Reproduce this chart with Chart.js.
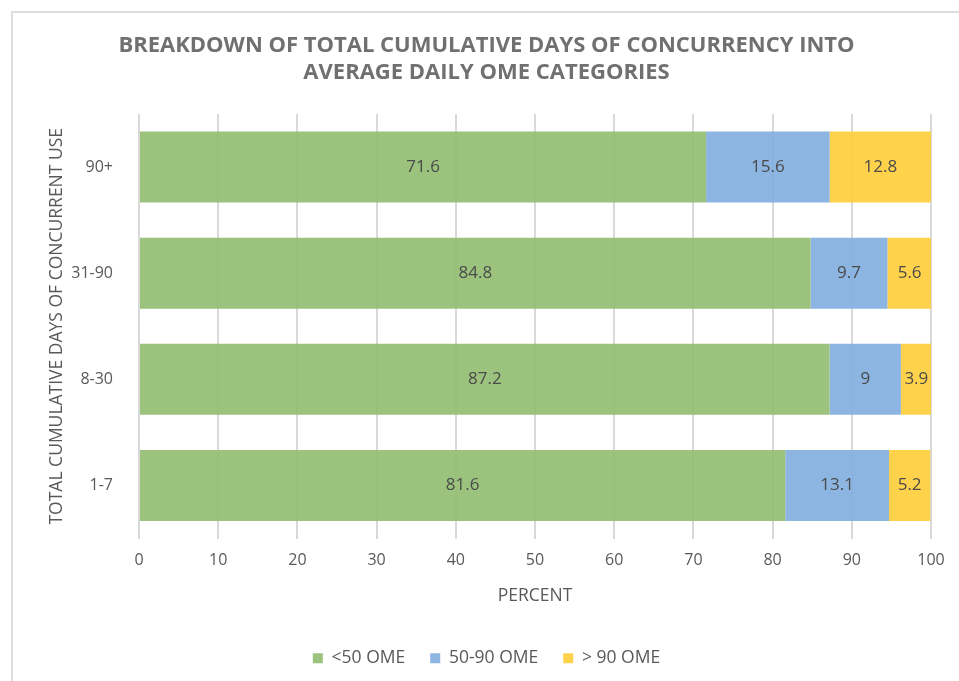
<!DOCTYPE html>
<html>
<head>
<meta charset="utf-8">
<script src="https://cdn.jsdelivr.net/npm/chart.js@4/dist/chart.umd.min.js"></script>
<style>
    body { margin: 0; background: #fff; }
    #wrap { position: relative; width: 959px; height: 681px; overflow: hidden; }
    #frame {
        position: absolute; left: 11px; top: 11px; width: 1000px; height: 1000px;
        border-left: 2px solid #dedede; border-top: 2px solid #dedede; pointer-events: none;
    }
</style>
</head>
<body>
<div id="wrap">
    <canvas id="myChart" width="959" height="681"></canvas>
    <div id="frame"></div>
</div>
<script>
"use strict";

// categories top to bottom, as in the picture
const categories = ['90+', '31-90', '8-30', '1-7'];
const under50 = [71.6, 84.8, 87.2, 81.6];
const from50to90 = [15.6, 9.7, 9, 13.1];
const over90 = [12.8, 5.6, 3.9, 5.2];
const seriesNames = ['<50 OME', '50-90 OME', '> 90 OME'];
const xTicks = [0, 10, 20, 30, 40, 50, 60, 70, 80, 90, 100];

const FONT = "'Open Sans', sans-serif";

// write the value in the middle of every bar piece
const barLabels = {
    id: 'barLabels',
    afterDatasetsDraw(chart) {
        const ctx = chart.ctx;
        ctx.save();
        ctx.font = '17px ' + FONT;
        ctx.fillStyle = '#4a4a4a';
        ctx.textAlign = 'center';
        ctx.textBaseline = 'middle';
        chart.data.datasets.forEach((ds, i) => {
            chart.getDatasetMeta(i).data.forEach((bar, j) => {
                const p = bar.getProps(['x', 'y', 'base'], true);
                ctx.fillText(String(ds.data[j]), (p.x + p.base) / 2, p.y);
            });
        });
        ctx.restore();
    }
};

new Chart(document.getElementById('myChart'), {
    type: 'bar',
    data: {
        labels: categories,
        datasets: [
            { label: seriesNames[0], data: under50, backgroundColor: 'rgba(145,189,112,0.9)' },
            { label: seriesNames[1], data: from50to90, backgroundColor: 'rgba(128,173,222,0.9)' },
            { label: seriesNames[2], data: over90, backgroundColor: 'rgba(255,205,56,0.9)' }
        ]
    },
    options: {
        indexAxis: 'y',
        responsive: false,
        animation: false,
        layout: { padding: { left: 42, right: 28, top: 0, bottom: 4 } },
        datasets: { bar: { categoryPercentage: 1, barPercentage: 0.67, borderWidth: 0 } },
        plugins: {
            title: {
                display: true,
                text: ['BREAKDOWN OF TOTAL CUMULATIVE DAYS OF CONCURRENCY INTO', 'AVERAGE DAILY OME CATEGORIES'],
                color: '#707070',
                font: { family: FONT, size: 22, weight: 'bold', lineHeight: 1.227 },
                padding: { top: 32, bottom: 28 }
            },
            legend: {
                position: 'bottom',
                labels: {
                    color: '#595959',
                    font: { family: FONT, size: 17.5 },
                    boxWidth: 10,
                    boxHeight: 10,
                    padding: 25
                }
            },
            tooltip: { enabled: false }
        },
        scales: {
            x: {
                stacked: true,
                min: 0,
                max: 100,
                afterBuildTicks(scale) {
                    scale.ticks = xTicks.map(v => ({ value: v }));
                },
                afterFit(scale) { scale.height = 86; },
                grid: { color: '#d9d9d9', lineWidth: 2, drawTicks: false },
                border: { display: false },
                ticks: { color: '#595959', font: { family: FONT, size: 16 }, padding: 12 },
                title: {
                    display: true,
                    text: 'PERCENT',
                    color: '#595959',
                    font: { family: FONT, size: 17.5 },
                    padding: { top: 8, bottom: 18 }
                }
            },
            y: {
                stacked: true,
                afterFit(scale) { scale.width = 97; },
                grid: { display: false },
                border: { display: false },
                ticks: { color: '#595959', font: { family: FONT, size: 16 }, padding: 18 },
                title: {
                    display: true,
                    text: 'TOTAL CUMULATIVE DAYS OF CONCURRENT USE',
                    color: '#595959',
                    font: { family: FONT, size: 17.5 },
                    padding: { top: 5 }
                }
            }
        }
    },
    plugins: [barLabels]
});
</script>
</body>
</html>
